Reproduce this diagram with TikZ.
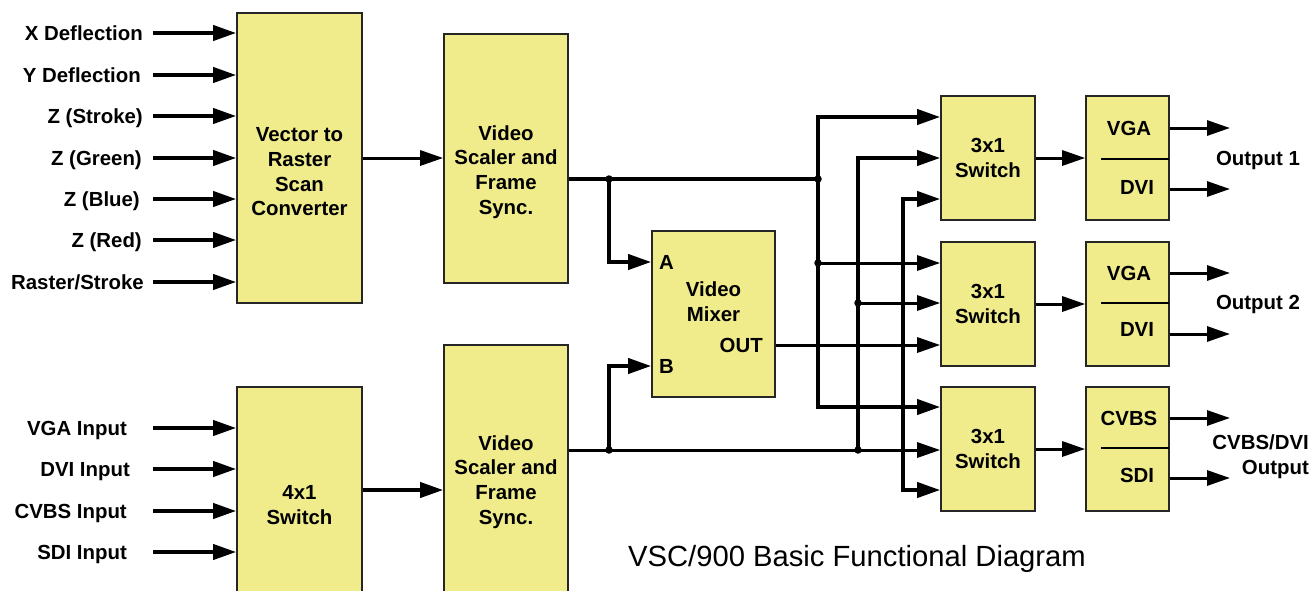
\documentclass[tikz,border=0pt]{standalone}
\usepackage{fontspec}
\setmainfont{Liberation Sans}
\usetikzlibrary{arrows.meta}
\definecolor{boxfill}{RGB}{240,236,140}
\begin{document}
\begin{tikzpicture}[x=1pt,y=-1pt,
  blk/.style={draw=black!85, line width=1.6pt, fill=boxfill, inner sep=0pt},
  txt/.style={font=\fontsize{20.4}{24.7}\selectfont\bfseries, align=center, inner sep=0pt},
  lab/.style={font=\fontsize{20.4}{24.7}\selectfont\bfseries, inner sep=0pt, text height=14.5pt, text depth=0pt},
  arr/.style={line width=3.8pt, -{Triangle[length=23pt,width=15pt]}},
  arrt/.style={line width=3pt, -{Triangle[length=23pt,width=15pt]}},
  ln/.style={line width=3.8pt},
  jdot/.style={circle, fill=black, inner sep=0pt, minimum size=7.5pt},
]
\useasboundingbox (0,0) rectangle (1312,590);
\clip (0,0) rectangle (1312,590);

% ---------- blocks ----------
\node[blk, minimum width=125pt, minimum height=290pt] (vrsc) at (299.5,158) {};
\node[txt] (vrsct) at (299.5,172) {Vector to\\Raster\\Scan\\Converter};
\node[blk, minimum width=124pt, minimum height=249pt] (vs1) at (506,158.5) {};
\node[txt] (vs1t) at (506,172) {Video\\Scaler and\\Frame\\Sync.};
\node[blk, minimum width=125pt, minimum height=206pt] (sw4) at (299.5,490) {};
\node[txt] (sw4t) at (299.5,505) {4x1\\Switch};
\node[blk, minimum width=124pt, minimum height=275pt] (vs2) at (506,482.5) {};
\node[txt] (vs2t) at (506,482) {Video\\Scaler and\\Frame\\Sync.};
\node[blk, minimum width=123pt, minimum height=166pt] (mix) at (713.5,314) {};
\node[txt] (mixt) at (713.5,302) {Video\\Mixer};
\node[lab, anchor=west] (mixa) at (659,262) {A};
\node[lab, anchor=west] (mixb) at (659,366) {B};
\node[lab, anchor=east] (mixo) at (763,345) {OUT};

\foreach \n/\y in {1/158,2/304,3/449}{
  \node[blk, minimum width=94pt, minimum height=124pt] (sw\n) at (988,\y) {};
  \node[txt] (sw\n t) at (988,\y) {3x1\\Switch};
  \node[blk, minimum width=83pt, minimum height=124pt] (out\n) at (1127.5,\y) {};
}
\draw[line width=1.6pt] (1101,159) -- (1169,159);
\draw[line width=1.6pt] (1101,303) -- (1169,303);
\draw[line width=1.6pt] (1101,448) -- (1169,448);
\node[lab] (vga1) at (1129,128) {VGA};
\node[lab] (dvi1) at (1137,187) {DVI};
\node[lab] (vga2) at (1129,273) {VGA};
\node[lab] (dvi2) at (1137,329) {DVI};
\node[lab] (cvbs3) at (1129,418) {CVBS};
\node[lab] (sdi3) at (1137,475) {SDI};

% ---------- top inputs ----------
\node[lab, anchor=east] (la) at (143,33) {X Deflection};
\node[lab, anchor=east] (lb) at (141,75) {Y Deflection};
\node[lab, anchor=east] (lc) at (143,116) {Z (Stroke)};
\node[lab, anchor=east] (ld) at (142,158) {Z (Green)};
\node[lab, anchor=east] (le) at (140,199) {Z (Blue)};
\node[lab, anchor=east] (lf) at (142,240) {Z (Red)};
\node[lab, anchor=east] (lg) at (144,282) {Raster/Stroke};
\foreach \c/\y in {a/33,b/75,c/116,d/158,e/199,f/240,g/282}{
  \coordinate (s\c) at (153,\y);
  \draw[arr] (s\c) -- (s\c -| vrsc.west);
}
% ---------- bottom inputs ----------
\node[lab, anchor=east] (lh) at (127,428) {VGA Input};
\node[lab, anchor=east] (li) at (130,469) {DVI Input};
\node[lab, anchor=east] (lj) at (127,511) {CVBS Input};
\node[lab, anchor=east] (lk) at (127,552) {SDI Input};
\foreach \c/\y in {h/428,i/469,j/511,k/552}{
  \coordinate (s\c) at (153,\y);
  \draw[arr] (s\c) -- (s\c -| sw4.west);
}

% ---------- main chain ----------
\draw[arrt] (vrsc.east) -- (vrsc.east -| vs1.west);
\draw[arr] (sw4.east) -- (sw4.east -| vs2.west);

\coordinate (j1) at (609,179);
\coordinate (j2) at (818,179);
\coordinate (ya) at (609,262);
\draw[ln] (j1 -| vs1.east) -- (j2);
\draw[arr] (j1) -- (ya) -- (ya -| mix.west);

\coordinate (k1) at (609,450);
\coordinate (yb) at (609,366);
\draw[arrt] (k1 -| vs2.east) -- (k1 -| sw3.west);
\draw[arr] (k1) -- (yb) -- (yb -| mix.west);

% bus 1 (scaler 1)
\coordinate (b1t) at (818,117);
\coordinate (b1m) at (818,263);
\coordinate (b1b) at (818,407);
\draw[arr] (j2) -- (b1t) -- (b1t -| sw1.west);
\draw[arr] (j2) -- (b1b) -- (b1b -| sw3.west);
\draw[arrt] (b1m) -- (b1m -| sw2.west);

% bus 2 (scaler 2)
\coordinate (b2t) at (858,158);
\coordinate (b2m) at (858,303);
\coordinate (b2b) at (858,450);
\draw[arr] (b2b) -- (b2t) -- (b2t -| sw1.west);
\draw[arrt] (b2m) -- (b2m -| sw2.west);

% bus 3 (mixer out)
\coordinate (b3t) at (903,199);
\coordinate (b3m) at (903,345);
\coordinate (b3b) at (903,490);
\draw[arrt] (mix.east |- b3m) -- (b3m -| sw2.west);
\draw[arr] (b3m) -- (b3t) -- (b3t -| sw1.west);
\draw[arr] (b3m) -- (b3b) -- (b3b -| sw3.west);

% junction dots
\foreach \p in {j1,j2,k1,b1m,b2m,b2b}{ \node[jdot] at (\p) {}; }

% switches to output boxes
\draw[arrt] (sw1.east) -- (sw1.east -| out1.west);
\draw[arrt] (sw2.east) -- (sw2.east -| out2.west);
\draw[arrt] (sw3.east) -- (sw3.east -| out3.west);

% outputs
\coordinate (o1a) at (1230,128);
\coordinate (o1b) at (1230,189);
\coordinate (o2a) at (1230,273);
\coordinate (o2b) at (1230,334);
\coordinate (o3a) at (1230,418);
\coordinate (o3b) at (1230,478);
\draw[arrt] (o1a -| out1.east) -- (o1a);
\draw[arrt] (o1b -| out1.east) -- (o1b);
\draw[arrt] (o2a -| out2.east) -- (o2a);
\draw[arrt] (o2b -| out2.east) -- (o2b);
\draw[arrt] (o3a -| out3.east) -- (o3a);
\draw[arrt] (o3b -| out3.east) -- (o3b);
\node[lab] (ol1) at (1258,158) {Output 1};
\node[lab] (ol2) at (1258,302) {Output 2};
\node[txt, align=right, anchor=east] (ol3) at (1309,457) {CVBS/DVI\\Output};

% title
\node[font=\fontsize{29.2}{34}\selectfont, inner sep=0pt, anchor=base] (title) at (857,566) {VSC/900 Basic Functional Diagram};
\end{tikzpicture}
\end{document}
